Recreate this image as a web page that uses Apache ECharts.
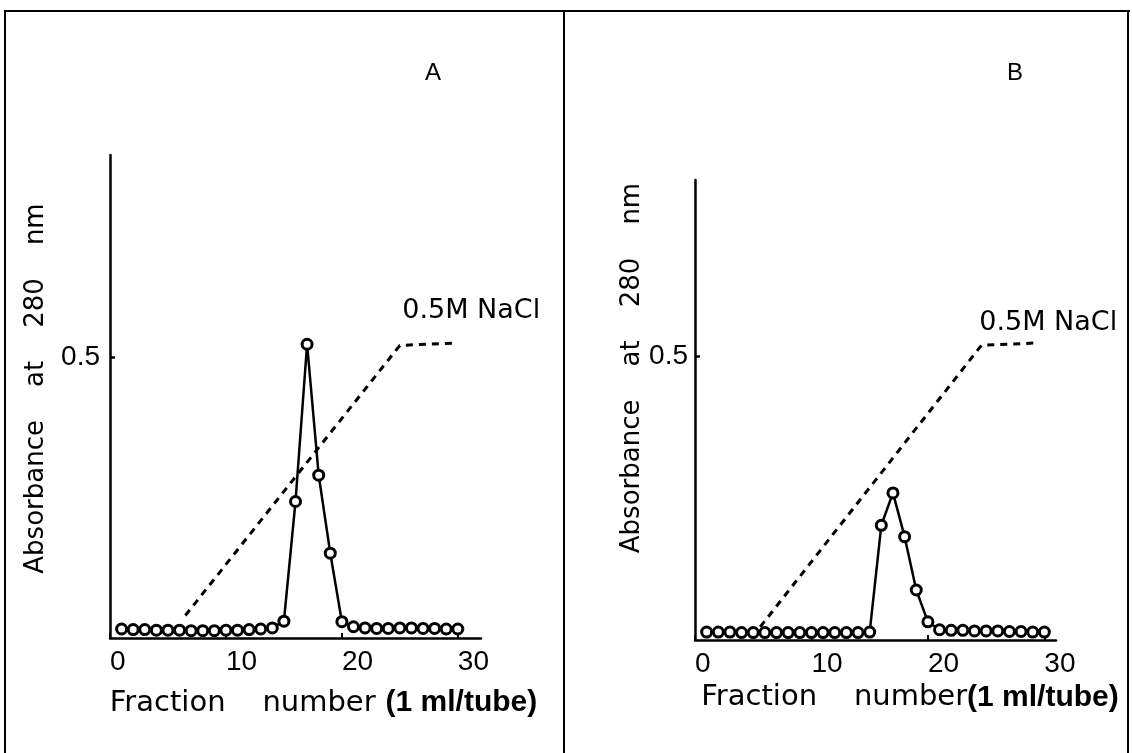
<!DOCTYPE html>
<html>
<head>
<meta charset="utf-8">
<title>Absorbance at 280 nm</title>
<style>
    html, body { margin: 0; padding: 0; background: #fff; }
    #chart { width: 1132px; height: 753px; }
</style>
</head>
<body>
<div id="chart"></div>
<script src="https://cdn.jsdelivr.net/npm/echarts@6.0.0/dist/echarts.min.js"></script>
<script>
    // fraction numbers (1 ml/tube)
    var fractions = [1, 2, 3, 4, 5, 6, 7, 8, 9, 10, 11, 12, 13, 14, 15,
        16, 17, 18, 19, 20, 21, 22, 23, 24, 25, 26, 27, 28, 29, 30];

    // absorbance at 280 nm, panel A and B
    var absA = [0.016, 0.015, 0.015, 0.014, 0.014, 0.014, 0.013, 0.013, 0.013, 0.014,
        0.014, 0.015, 0.016, 0.018, 0.030, 0.243, 0.523, 0.290, 0.151, 0.029,
        0.020, 0.018, 0.017, 0.017, 0.018, 0.018, 0.017, 0.017, 0.016, 0.016];
    var absB = [0.014, 0.014, 0.014, 0.013, 0.013, 0.013, 0.013, 0.013, 0.013, 0.013,
        0.013, 0.013, 0.013, 0.013, 0.014, 0.202, 0.259, 0.182, 0.088, 0.032,
        0.018, 0.017, 0.017, 0.016, 0.016, 0.016, 0.015, 0.015, 0.014, 0.014];

    // NaCl gradient (dashed line)
    var naclAx = [6.5, 25, 29.6];
    var naclAy = [0.04, 0.521, 0.525];
    var naclBx = [5.6, 24.6, 29.3];
    var naclBy = [0.023, 0.519, 0.523];

    var xTicks = [0, 10, 20, 30];
    var yTicks = [0.5];
    var naclText = '0.5M NaCl';
    var yName = 'Absorbance    at    280    nm';
    var xNameA = '{a|Fraction    number}   {b|(1 ml/tube)}';
    var xNameB = '{a|Fraction    number}{b|(1 ml/tube)}';

    var font = 'Liberation Sans';
    var wide = 'DejaVu Sans';
    var ink = '#000';

    function pairs(xs, ys) {
        var out = [];
        for (var i = 0; i < xs.length; i++) {
            out.push([xs[i], ys[i]]);
        }
        return out;
    }

    function xAxisOf(idx, max, name, gap, pad) {
        return {
            type: 'value', gridIndex: idx, min: 0, max: max,
            axisLine: {onZero: false, lineStyle: {color: ink, width: 2.5}},
            axisTick: {inside: true, length: 5, customValues: xTicks, lineStyle: {color: ink, width: 2}},
            axisLabel: {customValues: xTicks, align: 'left', margin: 10, color: ink, fontFamily: font, fontSize: 28},
            splitLine: {show: false},
            name: name,
            nameLocation: 'middle',
            nameGap: gap,
            nameTextStyle: {
                padding: pad,
                rich: {
                    a: {fontFamily: wide, fontSize: 29, color: ink},
                    b: {fontFamily: font, fontSize: 30, fontWeight: 'bold', color: ink}
                }
            }
        };
    }

    function yAxisOf(idx, max, gap, margin, pad) {
        return {
            type: 'value', gridIndex: idx, min: 0, max: max,
            axisLine: {onZero: false, lineStyle: {color: ink, width: 2.5}},
            axisTick: {inside: true, length: 5, customValues: yTicks, lineStyle: {color: ink, width: 2.5}},
            axisLabel: {customValues: yTicks, margin: margin, color: ink, fontFamily: font, fontSize: 28},
            splitLine: {show: false},
            name: yName,
            nameLocation: 'middle',
            nameRotate: 90,
            nameGap: gap,
            nameTextStyle: {fontFamily: wide, fontSize: 26, color: ink, padding: pad}
        };
    }

    function peakSeries(idx, ys) {
        return {
            type: 'line', xAxisIndex: idx, yAxisIndex: idx, z: 5,
            data: pairs(fractions, ys),
            symbol: 'circle', symbolSize: 10,
            itemStyle: {color: '#fff', borderColor: ink, borderWidth: 3},
            lineStyle: {color: ink, width: 2.5}
        };
    }

    function naclSeries(idx, xs, ys, off) {
        var d = pairs(xs, ys);
        var last = d.length - 1;
        d[last] = {
            value: d[last],
            label: {show: true, position: 'top', offset: off, formatter: naclText,
                color: ink, fontFamily: wide, fontSize: 27}
        };
        return {
            type: 'line', xAxisIndex: idx, yAxisIndex: idx, z: 3,
            data: d,
            symbol: 'circle', symbolSize: 1,
            itemStyle: {color: 'rgba(0,0,0,0)'},
            lineStyle: {color: ink, width: 3, type: [7, 6]}
        };
    }

    var chart = echarts.init(document.getElementById('chart'));
    chart.setOption({
        animation: false,
        backgroundColor: '#fff',
        title: [
            {text: 'A', left: 420, top: 56, textStyle: {fontFamily: font, fontSize: 24, fontWeight: 'normal', color: ink}},
            {text: 'B', left: 1002, top: 56, textStyle: {fontFamily: font, fontSize: 24, fontWeight: 'normal', color: ink}}
        ],
        grid: [
            {left: 110, top: 155, width: 371, height: 483},
            {left: 695, top: 180, width: 361, height: 460}
        ],
        xAxis: [
            xAxisOf(0, 32, xNameA, 50, [0, 0, 0, 56]),
            xAxisOf(1, 31, xNameB, 42, [0, 0, 0, 69])
        ],
        yAxis: [
            yAxisOf(0, 0.86, 61, 10, [0, 0, 0, 16]),
            yAxisOf(1, 0.81, 45, 7, [0, 0, 0, 84])
        ],
        series: [
            naclSeries(0, naclAx, naclAy, [18, -13]),
            peakSeries(0, absA),
            naclSeries(1, naclBx, naclBy, [12, -1]),
            peakSeries(1, absB)
        ],
        // outer frame of the figure
        graphic: [
            {type: 'line', shape: {x1: 4, y1: 11, x2: 1130, y2: 11}, style: {stroke: ink, lineWidth: 2}},
            {type: 'line', shape: {x1: 5, y1: 10, x2: 5, y2: 753}, style: {stroke: ink, lineWidth: 2}},
            {type: 'line', shape: {x1: 564, y1: 10, x2: 564, y2: 753}, style: {stroke: ink, lineWidth: 2}},
            {type: 'line', shape: {x1: 1128, y1: 10, x2: 1128, y2: 753}, style: {stroke: ink, lineWidth: 2}}
        ]
    });
</script>
</body>
</html>
